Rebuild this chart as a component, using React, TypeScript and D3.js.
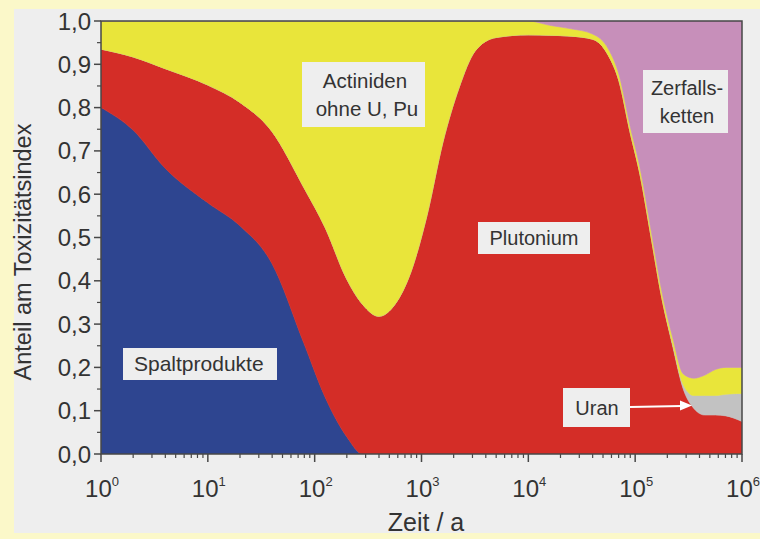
import React from "react";
import * as d3 from "d3";

// log10 of time in years (Zeit / a)
const logTime = [0, 0.3, 0.6, 1.0, 1.3, 1.6, 1.9, 2.1, 2.3, 2.45, 2.6, 2.75, 2.9, 3.05, 3.2, 3.35, 3.5, 3.7, 4.0, 4.2, 4.4, 4.6, 4.75, 4.85, 4.95, 5.05, 5.15, 5.25, 5.35, 5.45, 5.55, 5.65, 5.75, 5.85, 6.0];

// shares of the toxicity index per component
const spaltprodukte = [0.8, 0.748, 0.66, 0.58, 0.527, 0.44, 0.255, 0.13, 0.04, 0, 0, 0, 0, 0, 0, 0, 0, 0, 0, 0, 0, 0, 0, 0, 0, 0, 0, 0, 0, 0, 0, 0, 0, 0, 0];
const plutonium = [0.135, 0.169, 0.23, 0.272, 0.285, 0.305, 0.36, 0.392, 0.364, 0.345, 0.318, 0.345, 0.42, 0.55, 0.72, 0.845, 0.93, 0.962, 0.968, 0.967, 0.965, 0.958, 0.92, 0.86, 0.746, 0.64, 0.5, 0.36, 0.25, 0.15, 0.105, 0.09, 0.09, 0.088, 0.075];
const uran = [0, 0, 0, 0, 0, 0, 0, 0, 0, 0, 0, 0, 0, 0, 0, 0, 0, 0, 0, 0, 0, 0, 0, 0, 0, 0, 0, 0, 0.005, 0.01, 0.03, 0.045, 0.045, 0.05, 0.065];
const actiniden = [0.065, 0.083, 0.11, 0.148, 0.188, 0.255, 0.385, 0.478, 0.596, 0.655, 0.682, 0.655, 0.58, 0.45, 0.28, 0.155, 0.07, 0.038, 0.032, 0.023, 0.017, 0.012, 0.015, 0.015, 0.014, 0.015, 0.015, 0.015, 0.015, 0.025, 0.04, 0.047, 0.06, 0.062, 0.06];
const zerfallsketten = [0, 0, 0, 0, 0, 0, 0, 0, 0, 0, 0, 0, 0, 0, 0, 0, 0, 0, 0, 0.01, 0.018, 0.03, 0.065, 0.125, 0.24, 0.345, 0.485, 0.625, 0.73, 0.815, 0.825, 0.818, 0.805, 0.8, 0.8];

const seriesKeys = ["Spaltprodukte", "Plutonium", "Uran", "Actiniden", "Zerfallsketten"];
const seriesColors = ["#2e4590", "#d42d27", "#c2c2c2", "#e9e53a", "#c78fba"];

const yTickValues = [0, 0.1, 0.2, 0.3, 0.4, 0.5, 0.6, 0.7, 0.8, 0.9, 1.0];
const yTickLabels = ["0,0", "0,1", "0,2", "0,3", "0,4", "0,5", "0,6", "0,7", "0,8", "0,9", "1,0"];
const xTickExponents = [0, 1, 2, 3, 4, 5, 6];

const W = 760;
const H = 539;
const L = 101, R = 742, T = 21, B = 454;
const FONT = "'Liberation Sans', Arial, sans-serif";
const TXT = "#333333";

export default function App() {
  const x = d3.scaleLog().domain([1, 1e6]).range([L, R]);
  const y = d3.scaleLinear().domain([0, 1]).range([B, T]);

  const rows = logTime.map((l, i) => ({
    t: Math.pow(10, l),
    Spaltprodukte: spaltprodukte[i],
    Plutonium: plutonium[i],
    Uran: uran[i],
    Actiniden: actiniden[i],
    Zerfallsketten: zerfallsketten[i],
  }));
  const stacked = d3.stack<any>().keys(seriesKeys)(rows);
  const area = d3
    .area<any>()
    .x((d) => x(d.data.t))
    .y0((d) => y(Math.min(1, d[0])))
    .y1((d) => y(Math.min(1, d[1])))
    .curve(d3.curveMonotoneX);

  const minorX: number[] = [];
  for (let e = 0; e < 6; e++) for (let m = 2; m <= 9; m++) minorX.push(m * Math.pow(10, e));
  const minorY = d3.range(0.05, 1, 0.1);

  return (
    <svg width={W} height={H} style={{ position: "absolute", left: 0, top: 0 }} fontFamily={FONT}>
      <rect x={0} y={0} width={W} height={H} fill="#fbf8c9" />
      <rect x={14} y={9} width={W - 14} height={533 - 9} fill="#eeeeee" />
      <defs>
        <clipPath id="plotclip">
          <rect x={L} y={T} width={R - L} height={B - T} />
        </clipPath>
      </defs>
      <g clipPath="url(#plotclip)">
        {stacked.map((s, i) => (
          <path key={seriesKeys[i]} d={area(s) || ""} fill={seriesColors[i]} stroke={seriesColors[i]} strokeWidth={0.6} />
        ))}
      </g>
      {/* frame */}
      <rect x={L} y={T} width={R - L} height={B - T} fill="none" stroke="#474747" strokeWidth={1.5} />
      {/* y ticks */}
      {yTickValues.map((v, i) => (
        <g key={"y" + i}>
          <line x1={L - 7} x2={L} y1={y(v)} y2={y(v)} stroke="#474747" strokeWidth={1.5} />
          <text x={91} y={y(v) + 8.5} textAnchor="end" fontSize={24} fill={TXT}>
            {yTickLabels[i]}
          </text>
        </g>
      ))}
      {minorY.map((v, i) => (
        <line key={"ym" + i} x1={L - 4} x2={L} y1={y(v)} y2={y(v)} stroke="#474747" strokeWidth={1.2} />
      ))}
      {/* x ticks */}
      {xTickExponents.map((e) => (
        <g key={"x" + e}>
          <line x1={x(Math.pow(10, e))} x2={x(Math.pow(10, e))} y1={B} y2={B + 8} stroke="#474747" strokeWidth={1.5} />
          <text x={x(Math.pow(10, e)) + 1} y={497} textAnchor="middle" fontSize={24} fill={TXT}>
            <tspan>10</tspan>
            <tspan dy={-11} fontSize={13}>{e}</tspan>
          </text>
        </g>
      ))}
      {minorX.map((v, i) => (
        <line key={"xm" + i} x1={x(v)} x2={x(v)} y1={B} y2={B + 4} stroke="#474747" strokeWidth={1.2} />
      ))}
      {/* axis titles */}
      <text x={426} y={531} textAnchor="middle" fontSize={25} fill={TXT}>Zeit / a</text>
      <text transform="translate(31,252) rotate(-90)" textAnchor="middle" fontSize={23.5} fill={TXT}>
        Anteil am Toxizitätsindex
      </text>
      {/* labels */}
      <rect x={123} y={348} width={154} height={32} fill="#eeeeee" />
      <text x={134} y={371} fontSize={21} fill={TXT}>Spaltprodukte</text>

      <rect x={478} y={222} width={112} height={32} fill="#eeeeee" />
      <text x={534} y={245} textAnchor="middle" fontSize={20} fill={TXT}>Plutonium</text>

      <rect x={302} y={62} width={123} height={65} fill="#eeeeee" />
      <text x={365} y={88} textAnchor="middle" fontSize={20.5} fill={TXT}>Actiniden</text>
      <text x={367} y={116} textAnchor="middle" fontSize={20.5} fill={TXT}>ohne U, Pu</text>

      <rect x={643} y={70} width={85} height={63} fill="#eeeeee" />
      <text x={687} y={95} textAnchor="middle" fontSize={20} fill={TXT}>Zerfalls-</text>
      <text x={687} y={123} textAnchor="middle" fontSize={20} fill={TXT}>ketten</text>

      <rect x={563} y={388} width={67} height={39} fill="#eeeeee" />
      <text x={597} y={415} textAnchor="middle" fontSize={20} fill={TXT}>Uran</text>
      <line x1={630} y1={407} x2={682} y2={406} stroke="#ffffff" strokeWidth={2} />
      <polygon points="692,405.5 680,400.5 680,410.5" fill="#ffffff" />
    </svg>
  );
}
